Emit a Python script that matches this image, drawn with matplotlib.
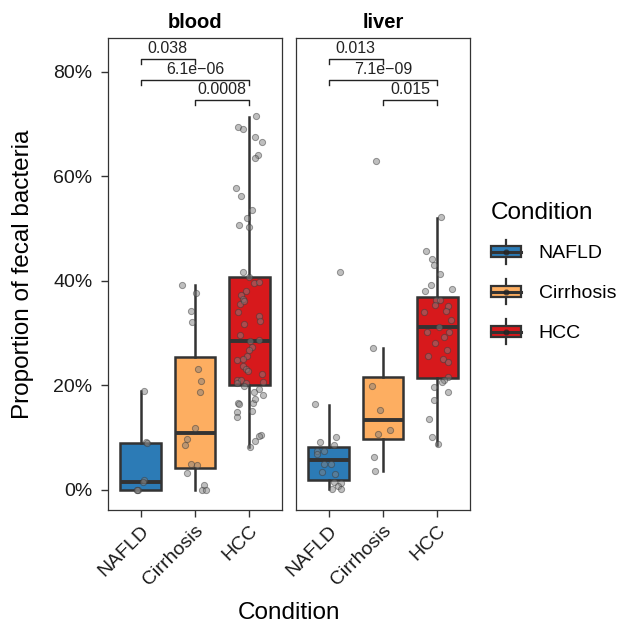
import numpy as np
import matplotlib
matplotlib.use('Agg')
import matplotlib.pyplot as plt
from matplotlib.patches import Rectangle, Patch
from matplotlib.lines import Line2D
from matplotlib.legend_handler import HandlerBase
from matplotlib.ticker import PercentFormatter

plt.rcParams['font.family'] = ['Liberation Sans', 'DejaVu Sans']

conditions = ['NAFLD', 'Cirrhosis', 'HCC']
colors = ['#2c7bb6', '#fdae61', '#d7191c']
tissues = ['blood', 'liver']

# box summaries (percent), order NAFLD, Cirrhosis, HCC
blood_q1 = [0.0, 4.3, 20.0]
blood_med = [1.5, 11.0, 28.6]
blood_q3 = [9.0, 25.5, 40.8]
blood_lo = [0.0, 0.0, 8.3]
blood_hi = [19.0, 39.2, 71.4]

liver_q1 = [2.0, 9.7, 21.5]
liver_med = [5.7, 13.4, 31.1]
liver_q3 = [8.3, 21.7, 36.9]
liver_lo = [0.1, 3.6, 8.7]
liver_hi = [16.3, 27.1, 52.0]

# individual samples (percent) and the jitter
blood_nafld = [19.0, 9.1, 8.9, 1.9, 1.5, 0.0, 0.0, 0.0]
blood_nafld_jit = [0.07, 0.09, 0.12, 0.07, 0.04, -0.06, -0.05, -0.07]
blood_cirr = [39.3, 37.7, 34.2, 32.2, 23.1, 20.9, 18.8, 11.9, 9.8, 8.6, 4.9, 4.8, 3.3, 1.0, 0.0, 0.0]
blood_cirr_jit = [-0.24, 0.02, -0.08, -0.05, 0.06, 0.11, 0.09, 0.0, -0.15, -0.19, -0.07, 0.04, -0.15, 0.17, 0.12, 0.21]
blood_hcc = [71.6, 69.5, 69.1, 67.5, 66.6, 64.2, 63.5, 57.7, 56.2, 53.6, 52.1, 50.8, 50.3,
             41.8, 40.8, 39.6, 39.8, 38.0, 37.4, 36.5, 35.6, 36.2, 34.1, 33.3, 32.4, 31.7,
             29.6, 28.6, 28.7, 27.3, 26.8, 25.7, 24.9, 25.1, 23.8, 23.2, 22.7, 22.2, 21.1,
             21.0, 20.4, 20.7, 20.4, 19.9, 19.3, 18.8, 18.2, 16.6, 16.5, 16.6, 17.4, 15.0,
             15.2, 13.9, 10.6, 10.4, 9.3, 8.3]
blood_hcc_jit = [0.12, -0.21, -0.11, 0.10, 0.23, 0.16, 0.11, -0.25, -0.16, 0.05, -0.05, -0.19, 0.0,
                 -0.11, 0.0, 0.08, 0.18, -0.06, -0.15, -0.12, -0.17, -0.09, -0.21, 0.18, 0.19, -0.09,
                 -0.17, 0.01, 0.18, 0.05, -0.01, -0.04, -0.22, -0.11, -0.12, -0.07, -0.03, 0.23, -0.23,
                 -0.15, -0.07, 0.25, -0.22, -0.09, 0.17, 0.09, 0.25, -0.21, -0.20, 0.06, 0.10, -0.23,
                 0.05, -0.23, 0.21, 0.18, 0.11, 0.01]

liver_nafld = [41.8, 16.5, 9.1, 10.1, 8.6, 7.5, 7.5, 6.9, 4.9, 4.9, 3.4, 3.0, 1.5, 1.3, 0.8, 0.1, 0.1]
liver_nafld_jit = [0.21, -0.25, -0.15, 0.13, 0.10, -0.22, -0.09, -0.22, -0.09, 0.04, -0.13, 0.12, 0.09, 0.22, 0.18, 0.06, 0.22]
liver_cirr = [63.0, 27.1, 19.9, 15.3, 10.7, 11.4, 6.4, 3.7]
liver_cirr_jit = [-0.12, -0.18, -0.20, -0.05, -0.09, 0.13, -0.17, -0.15]
liver_hcc = [52.2, 45.7, 44.2, 43.1, 41.3, 39.2, 38.1, 38.4, 36.4, 36.4, 35.4, 35.2, 34.1, 34.3,
             32.6, 31.1, 30.3, 30.3, 29.2, 28.1, 26.8, 25.7, 25.1, 24.5, 21.7, 21.1, 20.7, 19.7,
             18.8, 17.2, 13.5, 10.1, 8.8]
liver_hcc_jit = [0.06, -0.21, -0.10, -0.06, 0.04, -0.12, -0.22, 0.26, -0.03, 0.04, -0.04, 0.19, -0.25, 0.15,
                 0.25, 0.03, -0.19, 0.21, 0.13, -0.04, 0.18, -0.18, 0.11, 0.20, 0.19, 0.13, 0.08, -0.07,
                 0.20, -0.07, -0.15, -0.09, 0.02]

# pairwise comparisons (group index pairs), p-value labels and label heights
comparisons = [(1, 2), (1, 3), (2, 3)]
blood_pvals = ['0.038', '6.1e\u221206', '0.0008']
liver_pvals = ['0.013', '7.1e\u221209', '0.015']
bracket_y = [82.4, 78.5, 74.6]

edge = '#333333'

fig = plt.figure(figsize=(6.21, 6.23), dpi=100)
W, H = 621, 623
ax_b = fig.add_axes([108 / W, 1 - 510 / H, 174 / W, 472 / H])
ax_l = fig.add_axes([296 / W, 1 - 510 / H, 174 / W, 472 / H])

panels = {
    'blood': (ax_b, (blood_q1, blood_med, blood_q3, blood_lo, blood_hi),
              [(blood_nafld, blood_nafld_jit), (blood_cirr, blood_cirr_jit), (blood_hcc, blood_hcc_jit)],
              blood_pvals),
    'liver': (ax_l, (liver_q1, liver_med, liver_q3, liver_lo, liver_hi),
              [(liver_nafld, liver_nafld_jit), (liver_cirr, liver_cirr_jit), (liver_hcc, liver_hcc_jit)],
              liver_pvals),
}

for name in tissues:
    ax, (q1, med, q3, lo, hi), pts, pvals = panels[name]
    stats = [dict(q1=q1[i], med=med[i], q3=q3[i], whislo=lo[i], whishi=hi[i], fliers=[])
             for i in range(3)]
    bp = ax.bxp(stats, positions=[1, 2, 3], widths=0.75, patch_artist=True,
                showfliers=False, showcaps=False,
                boxprops=dict(edgecolor=edge, linewidth=1.8),
                medianprops=dict(color=edge, linewidth=2.8, solid_capstyle='butt'),
                whiskerprops=dict(color=edge, linewidth=1.8))
    for patch, c in zip(bp['boxes'], colors):
        patch.set_facecolor(c)

    for i, (vals, jit) in enumerate(pts):
        xs = np.array(jit) + i + 1
        ax.scatter(xs, vals, s=20, facecolor='#808080', edgecolor='#3a3a3a',
                   linewidths=0.7, alpha=0.5, zorder=4)

    for (a, b), lab, y in zip(comparisons, pvals, bracket_y):
        ax.plot([a, a, b, b], [y - 0.9, y, y, y - 0.9], color='#222222', lw=1.0)
        ax.text((a + b) / 2, y + 0.6, lab, ha='center', va='bottom', fontsize=11.5, color='#222222')

    ax.set_xlim(0.4, 3.6)
    ax.set_ylim(-3.83, 86.5)
    ax.set_xticks([1, 2, 3])
    ax.set_xticklabels(conditions, rotation=45, ha='right', va='top',
                       rotation_mode='anchor', fontsize=14)
    ax.set_yticks([0, 20, 40, 60, 80])
    ax.yaxis.set_major_formatter(PercentFormatter(xmax=100, decimals=0))
    ax.tick_params(axis='both', length=4.75, width=1.0, color=edge, labelsize=14,
                   labelcolor='#1a1a1a')
    ax.tick_params(axis='y', pad=6.5)
    ax.tick_params(axis='x', pad=4)
    for sp in ax.spines.values():
        sp.set_color(edge)
        sp.set_linewidth(0.9)
    ax.set_title(name, fontsize=14.5, fontweight='bold', pad=7)

ax_l.tick_params(axis='y', left=False, labelleft=False)

fig.text(23 / W, 1 - 274 / H, 'Proportion of fecal bacteria', rotation=90,
         ha='center', va='center', fontsize=17.5)
fig.text(289 / W, 1 - 619 / H, 'Condition', ha='center', va='baseline', fontsize=17.5)


class BoxKey(HandlerBase):
    def create_artists(self, legend, orig_handle, xdescent, ydescent,
                       width, height, fontsize, trans):
        x0, y0 = -xdescent, -ydescent
        cx = x0 + width / 2
        b0, b1 = y0 + height * 0.285, y0 + height * 0.715
        box = Rectangle((x0, b0), width, b1 - b0, facecolor=orig_handle.get_facecolor(),
                        edgecolor=edge, lw=1.6, transform=trans)
        w1 = Line2D([cx, cx], [y0, b0], color=edge, lw=1.6, transform=trans)
        w2 = Line2D([cx, cx], [b1, y0 + height], color=edge, lw=1.6, transform=trans)
        md = Line2D([x0, x0 + width], [(b0 + b1) / 2] * 2, color=edge, lw=2.2, transform=trans)
        dot = Line2D([cx], [(b0 + b1) / 2], marker='o', ms=3.5, color='#222222',
                     alpha=0.6, lw=0, transform=trans)
        return [w1, w2, box, md, dot]


handles = [Patch(facecolor=c) for c in colors]
leg = fig.legend(handles, conditions, loc='upper left', bbox_to_anchor=(491 / W, 1 - 202 / H),
                 frameon=False, fontsize=14, title='Condition', title_fontsize=17.5,
                 handler_map={Patch: BoxKey()}, handlelength=1.55, handleheight=1.55,
                 labelspacing=0.8, handletextpad=0.9, borderpad=0, borderaxespad=0,
                 alignment='left')

fig.savefig('out.png', dpi=100)
